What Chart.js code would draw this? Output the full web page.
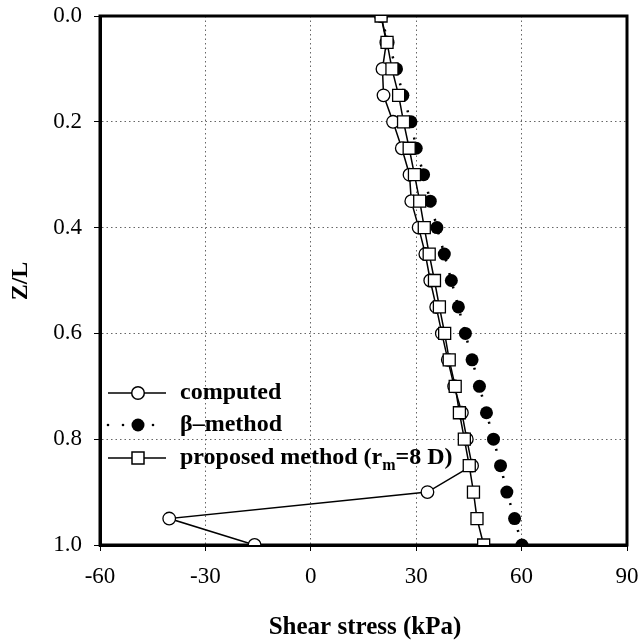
<!DOCTYPE html>
<html lang="en">
<head>
    <meta charset="UTF-8">
    <title>Shear stress vs Z/L</title>
    <script src="https://cdn.jsdelivr.net/npm/chart.js"></script>
    <style>
        html, body {
            margin: 0;
            padding: 0;
            background: #fff;
        }
        #wrap {
            width: 640px;
            height: 642px;
        }
    </style>
</head>
<body>
    <div id="wrap">
        <canvas id="shearChart" width="640" height="642"></canvas>
    </div>
    <script>
        // depth ratio Z/L
        const depth = [0, 0.05, 0.1, 0.15, 0.2, 0.25, 0.3, 0.35, 0.4, 0.45, 0.5,
                       0.55, 0.6, 0.65, 0.7, 0.75, 0.8, 0.85, 0.9, 0.95, 1.0];
        // shear stress (kPa)
        const computed = [20, 21.5, 20.4, 20.7, 23.4, 25.9, 28.1, 28.6, 30.7, 32.6, 34,
                          35.7, 37.3, 39, 40.8, 43, 44.4, 45.9, 33.2, -40.3, -16];
        const betaMethod = [20, 22, 24.4, 26.2, 28.5, 30, 32.1, 34, 35.9, 38, 40,
                            42, 44, 45.9, 48, 50, 52, 54, 55.8, 58, 60.1];
        const proposed = [20, 21.7, 23.1, 25, 26.4, 28, 29.5, 31, 32.3, 33.7, 35.2,
                          36.6, 38.1, 39.4, 41.1, 42.3, 43.7, 45.1, 46.3, 47.3, 49.2];
        const xTicks = [-60, -30, 0, 30, 60, 90];
        const yTicks = [0, 0.2, 0.4, 0.6, 0.8, 1.0];

        const serif = '"Liberation Serif", "Times New Roman", serif';

        function toPoints(values) {
            return values.map((v, i) => ({ x: v, y: depth[i] }));
        }

        // frame on top/right, drawn before the markers
        const framePlugin = {
            id: 'frame',
            beforeDatasetsDraw(chart) {
                const { ctx, chartArea: a } = chart;
                ctx.save();
                ctx.strokeStyle = '#000';
                ctx.lineWidth = 3;
                ctx.strokeRect(a.left, a.top, a.right - a.left, a.bottom - a.top);
                ctx.restore();
            }
        };

        // axis titles + legend inside the plot
        const textPlugin = {
            id: 'texts',
            afterDraw(chart) {
                const ctx = chart.ctx;
                ctx.save();
                ctx.fillStyle = '#000';
                ctx.font = 'bold 25px ' + serif;
                ctx.textAlign = 'center';
                ctx.textBaseline = 'middle';
                ctx.fillText('Shear stress (kPa)', 365, 628);
                ctx.save();
                ctx.translate(21, 281);
                ctx.rotate(-Math.PI / 2);
                ctx.font = 'bold 24px ' + serif;
                ctx.fillText('Z/L', 0, 0);
                ctx.restore();

                // legend
                const x0 = 108, x1 = 166, mx = 138, tx = 180;
                const rows = [393, 425, 458];
                ctx.strokeStyle = '#000';
                ctx.lineWidth = 1.5;

                // computed
                ctx.beginPath();
                ctx.moveTo(x0, rows[0]); ctx.lineTo(x1, rows[0]);
                ctx.stroke();
                ctx.beginPath();
                ctx.arc(mx, rows[0], 6.3, 0, Math.PI * 2);
                ctx.fillStyle = '#fff';
                ctx.fill();
                ctx.stroke();

                // beta method
                ctx.fillStyle = '#000';
                [108, 123, 153].forEach(dx => {
                    ctx.beginPath();
                    ctx.arc(dx, rows[1], 1.3, 0, Math.PI * 2);
                    ctx.fill();
                });
                ctx.beginPath();
                ctx.arc(mx, rows[1], 6.5, 0, Math.PI * 2);
                ctx.fill();

                // proposed
                ctx.beginPath();
                ctx.moveTo(x0, rows[2]); ctx.lineTo(x1, rows[2]);
                ctx.stroke();
                ctx.fillStyle = '#fff';
                ctx.fillRect(mx - 6, rows[2] - 6, 12, 12);
                ctx.strokeRect(mx - 6, rows[2] - 6, 12, 12);

                ctx.fillStyle = '#000';
                ctx.textAlign = 'left';
                ctx.textBaseline = 'middle';
                ctx.font = 'bold 24px ' + serif;
                ctx.fillText('computed', tx, rows[0]);
                ctx.fillText('\u03B2\u2013method', tx, rows[1]);
                let s = 'proposed method (r';
                ctx.fillText(s, tx, rows[2]);
                let w = ctx.measureText(s).width;
                ctx.font = 'bold 16px ' + serif;
                ctx.fillText('m', tx + w, rows[2] + 8);
                let w2 = ctx.measureText('m').width;
                ctx.font = 'bold 24px ' + serif;
                ctx.fillText('=8 D)', tx + w + w2, rows[2]);
                ctx.restore();
            }
        };

        const ctx = document.getElementById('shearChart').getContext('2d');
        const shearChart = new Chart(ctx, {
            type: 'scatter',
            data: {
                datasets: [
                    {
                        label: 'proposed method (rm=8 D)',
                        data: toPoints(proposed),
                        showLine: true,
                        borderColor: '#000',
                        borderWidth: 1.5,
                        pointStyle: 'rect',
                        pointRadius: 8.5,
                        pointBackgroundColor: '#fff',
                        pointBorderColor: '#000',
                        pointBorderWidth: 1.3
                    },
                    {
                        label: 'computed',
                        data: toPoints(computed),
                        showLine: true,
                        borderColor: '#000',
                        borderWidth: 1.5,
                        pointStyle: 'circle',
                        pointRadius: 6.3,
                        pointBackgroundColor: '#fff',
                        pointBorderColor: '#000',
                        pointBorderWidth: 1.3
                    },
                    {
                        label: '\u03B2\u2013method',
                        data: toPoints(betaMethod),
                        showLine: true,
                        borderColor: '#000',
                        borderWidth: 2.5,
                        borderDash: [2, 12],
                        pointStyle: 'circle',
                        pointRadius: 6.5,
                        pointBackgroundColor: '#000',
                        pointBorderColor: '#000',
                        pointBorderWidth: 0
                    }
                ]
            },
            options: {
                responsive: false,
                animation: false,
                layout: {
                    padding: { top: 16, right: 13, left: 0, bottom: 0 }
                },
                plugins: {
                    legend: { display: false },
                    tooltip: { enabled: false }
                },
                scales: {
                    x: {
                        type: 'linear',
                        position: 'bottom',
                        min: -60,
                        max: 90,
                        afterFit: s => {
                            s.height = 97;
                            s.paddingLeft = 0;
                            s.paddingRight = 0;
                        },
                        afterBuildTicks: s => { s.ticks = xTicks.map(v => ({ value: v })); },
                        ticks: {
                            color: '#000',
                            font: { family: serif, size: 23 },
                            padding: 12,
                            maxRotation: 0
                        },
                        grid: {
                            color: '#666',
                            lineWidth: 1,
                            tickLength: 6,
                            tickColor: '#000',
                            tickBorderDash: []
                        },
                        border: {
                            display: true,
                            color: '#000',
                            width: 3,
                            dash: [1.5, 3]
                        }
                    },
                    y: {
                        type: 'linear',
                        position: 'left',
                        reverse: true,
                        min: 0,
                        max: 1,
                        afterFit: s => {
                            s.width = 100;
                            s.paddingTop = 0;
                            s.paddingBottom = 0;
                        },
                        afterBuildTicks: s => { s.ticks = yTicks.map(v => ({ value: v })); },
                        ticks: {
                            color: '#000',
                            font: { family: serif, size: 23 },
                            padding: 12,
                            callback: v => Number(v).toFixed(1)
                        },
                        grid: {
                            color: '#666',
                            lineWidth: 1,
                            tickLength: 6,
                            tickColor: '#000',
                            tickBorderDash: []
                        },
                        border: {
                            display: true,
                            color: '#000',
                            width: 3,
                            dash: [1.5, 3]
                        }
                    }
                }
            },
            plugins: [framePlugin, textPlugin]
        });
    </script>
</body>
</html>
